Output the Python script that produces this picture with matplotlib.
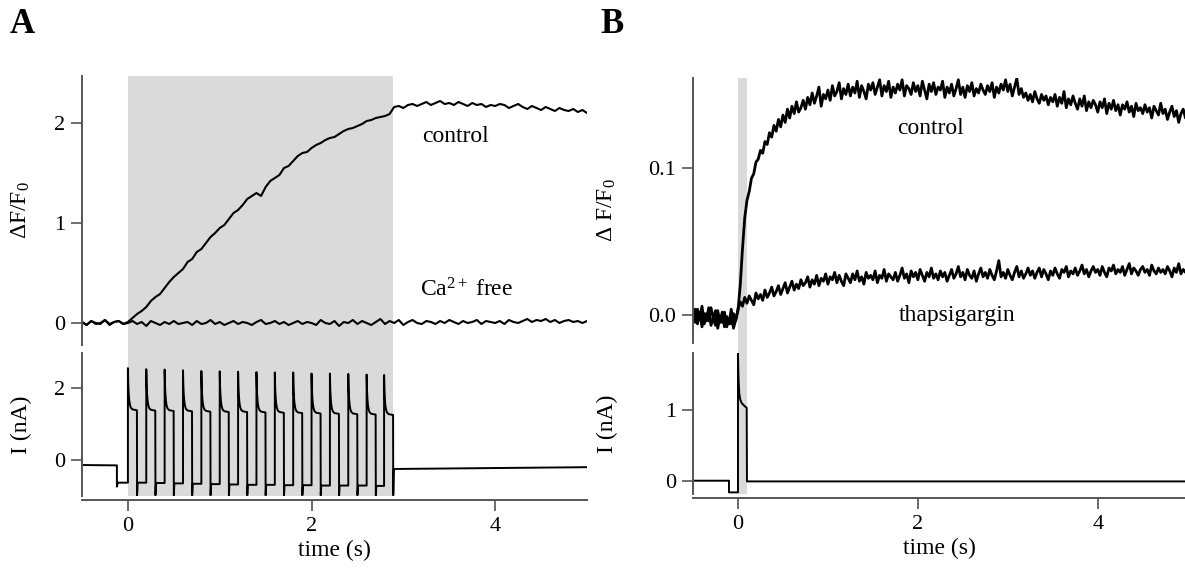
import numpy as np
import matplotlib
matplotlib.use('Agg')
import matplotlib.pyplot as plt
from matplotlib.patches import Rectangle
from matplotlib import transforms

plt.rcParams['font.family'] = ['Liberation Serif', 'DejaVu Serif']
plt.rcParams['mathtext.fontset'] = 'custom'
plt.rcParams['mathtext.rm'] = 'Liberation Serif'
plt.rcParams['mathtext.it'] = 'Liberation Serif:italic'

# ---------------- panel A : fluorescence (dF/F0), t = -0.5 .. 5 s ----------------
a_control = [0.01, -0.02, 0.02, 0.00, -0.01, 0.03, -0.01, 0.01, 0.02, -0.01,
             0.01, 0.05, 0.09, 0.12, 0.16, 0.22, 0.26, 0.29, 0.35, 0.41,
             0.46, 0.50, 0.54, 0.61, 0.64, 0.71, 0.74, 0.80, 0.86, 0.90,
             0.95, 0.98, 1.04, 1.10, 1.13, 1.18, 1.24, 1.27, 1.30, 1.27,
             1.36, 1.42, 1.45, 1.48, 1.55, 1.57, 1.62, 1.67, 1.70, 1.71,
             1.75, 1.78, 1.80, 1.83, 1.85, 1.86, 1.89, 1.92, 1.94, 1.95,
             1.97, 1.99, 2.02, 2.03, 2.05, 2.06, 2.07, 2.09, 2.16, 2.17,
             2.15, 2.18, 2.19, 2.17, 2.19, 2.21, 2.18, 2.20, 2.22, 2.19,
             2.20, 2.18, 2.21, 2.19, 2.17, 2.20, 2.18, 2.19, 2.16, 2.18,
             2.17, 2.19, 2.18, 2.15, 2.17, 2.19, 2.16, 2.14, 2.17, 2.15,
             2.13, 2.16, 2.14, 2.12, 2.15, 2.13, 2.12, 2.14, 2.11, 2.13,
             2.10]
a_cafree = [1, -2, 2, -1, 0, 3, -2, 1, 2, -1,
            0, 2, -1, 1, -3, 2, 0, -2, 1, -1,
            2, -1, 0, 1, -2, 2, -1, 0, 3, -1,
            1, -2, 0, 2, -1, 1, 0, -2, 1, 3,
            -1, 0, 2, -1, 1, -2, 0, 2, -1, 1,
            0, -2, 3, 0, -1, 2, -3, 1, 0, 3,
            -1, 2, 0, -2, 1, 4, -1, 2, 0, 3,
            -2, 1, 3, 0, -1, 2, 1, -1, 2, 0,
            3, 1, -1, 2, 0, 1, 3, -1, 2, 1,
            0, 2, -1, 3, 1, 0, 2, 4, 1, 3,
            2, 4, 1, 3, 0, 2, 3, 1, 2, 0, 2]  # x 0.01

# panel A : current, 15 pulses
pulse_on = [0.0, 0.2, 0.4, 0.6, 0.8, 1.0, 1.2, 1.4, 1.6, 1.8, 2.0, 2.2, 2.4, 2.6, 2.79]
pulse_peak = [2.55, 2.52, 2.51, 2.49, 2.47, 2.46, 2.45, 2.44, 2.43, 2.43, 2.40, 2.40, 2.39, 2.37, 2.36]
pulse_plateau = [1.38, 1.37, 1.36, 1.35, 1.34, 1.33, 1.33, 1.32, 1.31, 1.30, 1.29, 1.28, 1.27, 1.26, 1.25]
pulse_after = [-0.63, -0.64, -0.65, -0.66, -0.67, -0.68, -0.69, -0.69, -0.70, -0.70, -0.71, -0.71, -0.71, -0.72, -0.25]
decay_dt = [0.0, 0.004, 0.008, 0.014, 0.022, 0.032, 0.05, 0.098]
decay_frac = [1.0, 0.62, 0.42, 0.25, 0.13, 0.06, 0.02, 0.0]
a_pre_t = [-0.5, -0.12, -0.12, -0.11, 0.0]
a_pre_i = [-0.14, -0.15, -0.74, -0.63, -0.63]
a_tail_dip = -0.98
a_end_i = -0.20

# ---------------- panel B : fluorescence, t = -0.5 .. 5 s (x 0.001) ----------------
b_control = [2, -5, 4, -3, 6, -6, 1, -4, 5, -2, -7, 3, -5, 2, -8, -1, -6, 4, -9, -3,
             3,
             20, 45, 66, 78, 84, 93, 96, 104, 106, 112, 110, 118, 116, 124, 121, 129, 125, 133, 128,
             136, 131, 140, 134, 142, 137, 145, 138, 141, 146,
             140, 148, 143, 151, 144, 149, 155, 142, 150, 147,
             153, 146, 156, 149, 152, 158, 147, 154, 150, 157,
             149, 155, 151, 159, 148, 156, 152, 147, 157, 153,
             158, 150, 155, 160, 149, 156, 152, 159, 148, 155,
             151, 157, 153, 160, 149, 156, 154, 150, 158, 152,
             156, 149, 159, 153, 147, 157, 152, 158, 150, 155,
             153, 159, 148, 155, 151, 157, 149, 154, 160, 150,
             155, 148, 156, 152, 158, 149, 154, 151, 157, 153,
             150, 156, 152, 158, 148, 155, 151, 157, 153, 160,
             152, 157, 149, 155, 161, 150, 154, 148, 151, 146,
             150, 145, 152, 147, 144, 150, 146, 149, 143, 148,
             145, 150, 142, 148, 144, 152, 141, 147, 143, 149,
             144, 140, 147, 142, 149, 139, 145, 141, 146, 143,
             138, 145, 141, 147, 137, 144, 140, 146, 139, 143,
             136, 143, 140, 145, 138, 142, 135, 144, 139, 141,
             137, 143, 138, 141, 134, 142, 139, 136, 144, 137,
             140, 133, 138, 142, 135, 139, 131, 137, 140, 134,
             136]
b_thaps = [-3, 4, -6, 2, -8, 1, -4, 5, -7, -2, 3, -9, -1, -5, 2, -8, -3, -6, 1, -4,
           4,
           9, 6, 12, 8, 13, 10, 7, 15, 11,
           14, 10, 17, 12, 15, 19, 13, 16, 20, 14,
           18, 22, 15, 19, 23, 17, 21, 18, 24, 20,
           22, 26, 19, 24, 21, 27, 20, 25, 23, 28,
           21, 26, 24, 29, 22, 27, 23, 20, 28, 25,
           22, 28, 24, 30, 23, 26, 21, 29, 25, 27,
           24, 30, 22, 27, 25, 31, 23, 28, 26, 24,
           29, 23, 27, 32, 25, 28, 22, 30, 26, 29,
           24, 31, 27, 23, 29, 26, 32, 25, 28, 24,
           30, 26, 29, 23, 27, 31, 25, 28, 33, 26,
           29, 24, 31, 27, 25, 30, 23, 28, 32, 26,
           29, 25, 31, 27, 24, 30, 37, 26, 29, 25,
           31, 27, 24, 29, 33, 26, 30, 25, 28, 32,
           27, 30, 25, 29, 32, 26, 31, 28, 24, 30,
           27, 32, 28, 25, 31, 29, 33, 26, 30, 28,
           32, 27, 30, 34, 28, 31, 26, 30, 33, 29,
           31, 27, 33, 29, 26, 32, 30, 34, 28, 31,
           29, 33, 27, 31, 35, 28, 32, 30, 27, 31,
           33, 29, 31, 27, 34, 30, 28, 32, 29, 31,
           28, 33, 30, 26, 32, 29, 35, 28, 31, 29,
           30]

# panel B : current, single pulse
b_cur_t = [-0.5, -0.1, -0.1, 0.0, 0.0, 0.004, 0.008, 0.015, 0.025, 0.04, 0.07, 0.097, 0.1, 0.11, 4.97]
b_cur_i = [0.0, 0.0, -0.165, -0.165, 1.80, 1.55, 1.38, 1.23, 1.15, 1.10, 1.06, 1.03, -0.01, -0.01, -0.01]

shade = '#dadada'
axis_grey = '#555555'
W, H = 1185, 577
FS_TICK = 16
FS_TEXT = 17

# build the pulse-train waveform from the per-pulse values
cur_t = list(a_pre_t)
cur_i = list(a_pre_i)
level = a_pre_i[-1]
for t0, pk, pl, after in zip(pulse_on, pulse_peak, pulse_plateau, pulse_after):
    cur_t.append(t0)
    cur_i.append(level)
    for dt, f in zip(decay_dt, decay_frac):
        cur_t.append(t0 + dt)
        cur_i.append(pl + f * (pk - pl))
    cur_t += [t0 + 0.1, t0 + 0.106]
    cur_i += [a_tail_dip, after]
    level = after
cur_t.append(5.0)
cur_i.append(a_end_i)

fig = plt.figure(figsize=(11.85, 5.77), dpi=100)


def px_axes(l, t, r, b):
    return fig.add_axes([l / W, 1 - b / H, (r - l) / W, (b - t) / H])


def style(ax, has_x):
    ax.patch.set_alpha(0)
    ax.spines['top'].set_visible(False)
    ax.spines['right'].set_visible(False)
    ax.spines['left'].set_color(axis_grey)
    ax.spines['left'].set_linewidth(1.4)
    if has_x:
        ax.spines['bottom'].set_color(axis_grey)
        ax.spines['bottom'].set_linewidth(1.4)
        ax.spines['bottom'].set_position(('outward', 3))
        ax.set_xticks([0, 2, 4])
        ax.set_xlabel('time (s)', fontsize=FS_TEXT, labelpad=3)
    else:
        ax.spines['bottom'].set_visible(False)
        ax.set_xticks([])
    ax.tick_params(direction='out', length=8, width=1.2, color=axis_grey,
                   labelsize=FS_TICK, pad=4)


axA1 = px_axes(82, 76, 587, 345)
axA2 = px_axes(82, 353, 587, 496)
axB1 = px_axes(693, 78, 1185, 343)
axB2 = px_axes(693, 353, 1185, 494)

# ---- A ----
a_time = np.linspace(-0.5, 5.0, len(a_control))
c_time = np.linspace(-0.5, 5.0, len(a_cafree))
axA1.axvspan(0, 2.89, color=shade, lw=0, zorder=0)
axA1.plot(a_time, a_control, color='black', lw=1.5)
axA1.plot(c_time, np.array(a_cafree) * 0.01, color='black', lw=1.5)
axA1.set_xlim(-0.5, 5.0)
axA1.set_ylim(-0.22, 2.47)
axA1.set_yticks([0, 1, 2])
axA1.set_ylabel('ΔF/F$_0$', fontsize=FS_TEXT)
axA1.yaxis.set_label_coords(-0.099, 0.5)
axA1.text(3.2, 1.86, 'control', fontsize=FS_TEXT, ha='left', va='center')
axA1.text(3.18, 0.33, 'Ca$^{2+}$ free', fontsize=FS_TEXT, ha='left', va='center')
style(axA1, False)

axA2.axvspan(0, 2.89, color=shade, lw=0, zorder=0)
axA2.plot(cur_t, cur_i, color='black', lw=1.4)
axA2.set_xlim(-0.5, 5.0)
axA2.set_ylim(-1.0, 2.97)
axA2.set_yticks([0, 2])
axA2.set_ylabel('I (nA)', fontsize=FS_TEXT)
axA2.yaxis.set_label_coords(-0.099, 0.5)
style(axA2, True)

# ---- B ----
b_time = np.linspace(-0.5, 5.0, len(b_control))
t_time = np.linspace(-0.5, 5.0, len(b_thaps))
axB1.axvspan(0, 0.1, color=shade, lw=0, zorder=0)
axB1.plot(b_time, np.array(b_control) * 0.001, color='black', lw=2.0)
axB1.plot(t_time, np.array(b_thaps) * 0.001, color='black', lw=2.0)
axB1.set_xlim(-0.5, 4.97)
axB1.set_ylim(-0.019, 0.1612)
axB1.set_yticks([0.0, 0.1])
axB1.set_yticklabels(['0.0', '0.1'])
axB1.set_ylabel('Δ F/F$_0$', fontsize=FS_TEXT)
axB1.yaxis.set_label_coords(-0.152, 0.5)
axB1.text(2.14, 0.127, 'control', fontsize=FS_TEXT, ha='center', va='center')
axB1.text(2.44, 0.0, 'thapsigargin', fontsize=FS_TEXT, ha='center', va='center')
style(axB1, False)

axB2.axvspan(0, 0.1, color=shade, lw=0, zorder=0)
axB2.plot(b_cur_t, b_cur_i, color='black', lw=1.4)
axB2.set_xlim(-0.5, 4.97)
axB2.set_ylim(-0.188, 1.806)
axB2.set_yticks([0, 1])
axB2.set_ylabel('I (nA)', fontsize=FS_TEXT)
axB2.yaxis.set_label_coords(-0.152, 0.5)
style(axB2, True)

# shaded band continues through the gap between the two axes
for ax, x1 in [(axA2, 2.89), (axB2, 0.1)]:
    tr = transforms.blended_transform_factory(ax.transData, fig.transFigure)
    fig.add_artist(Rectangle((0, 1 - 353 / H), x1, 10 / H, transform=tr,
                             color=shade, lw=0, zorder=0))

fig.text(10 / W, 1 - 8 / H, 'A', fontsize=25, fontweight='bold', va='top')
fig.text(600 / W, 1 - 8 / H, 'B', fontsize=25, fontweight='bold', va='top')

fig.savefig('out.png', dpi=100)
